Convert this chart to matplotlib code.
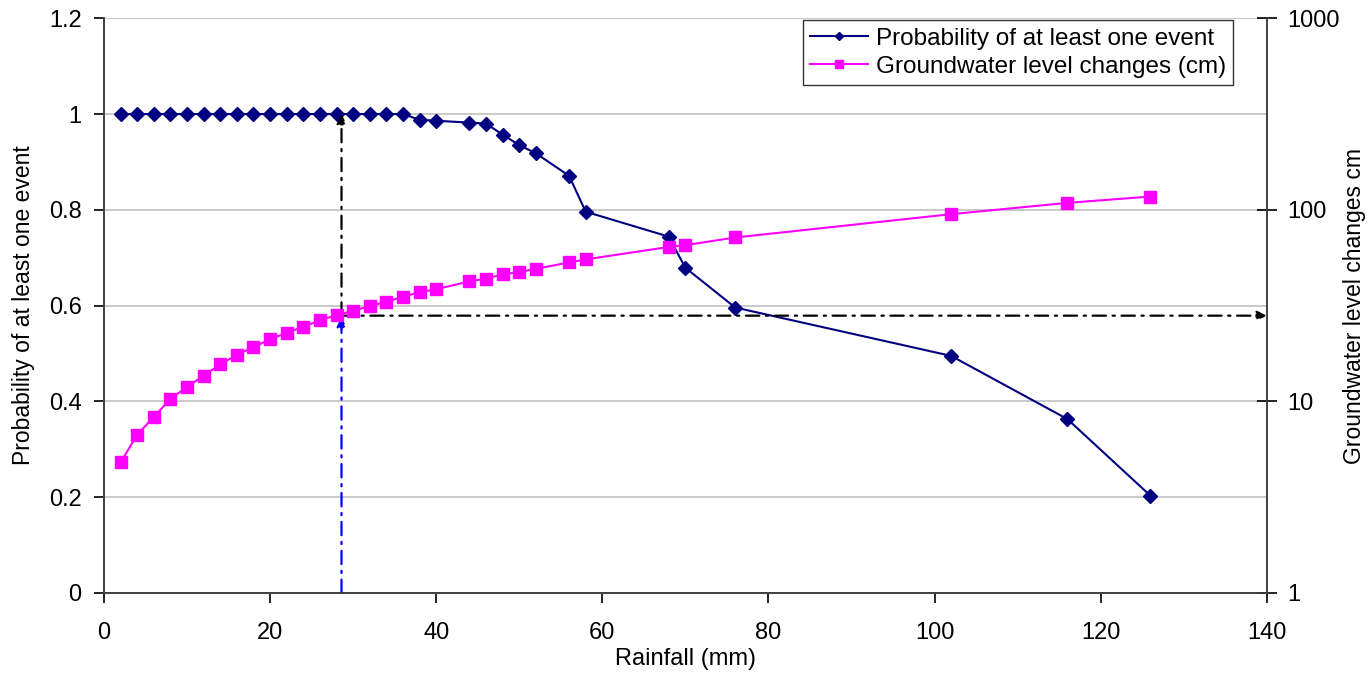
import matplotlib.pyplot as plt
from matplotlib.ticker import FixedLocator, FixedFormatter

plt.rcParams['font.family'] = ['Liberation Sans', 'DejaVu Sans']

# Rainfall (mm)
rain = [2, 4, 6, 8, 10, 12, 14, 16, 18, 20, 22, 24, 26, 28, 30, 32, 34, 36,
        38, 40, 44, 46, 48, 50, 52, 56, 58, 68, 70, 76, 102, 116, 126]

# Probability of at least one event
prob = [1, 1, 1, 1, 1, 1, 1, 1, 1, 1, 1, 1, 1, 1, 1, 1, 1, 1,
        0.988, 0.986, 0.982, 0.98, 0.957, 0.935, 0.918, 0.871, 0.796,
        0.744, 0.679, 0.596, 0.495, 0.363, 0.203]

# Groundwater level changes (cm)
gw = [4.8, 6.7, 8.3, 10.3, 11.9, 13.6, 15.6, 17.5, 19.2, 21.1, 22.8, 24.5,
      26.5, 28.2, 29.7, 31.4, 33.2, 35.1, 37.2, 38.5, 42.3, 43.8, 46.0, 47.4,
      49.2, 53.1, 55.1, 64.0, 65.4, 71.7, 94.9, 108.7, 117.3]

# reading shown with the dash-dot lines
x_read = 28.6
p_read = 0.579

fig = plt.figure(figsize=(13.68, 6.75), dpi=100)
ax = fig.add_axes([0.076, 0.1215, 0.85, 0.8515])
ax2 = ax.twinx()

ax.set_xlim(0, 140)
ax.set_ylim(0, 1.2)
ax.set_xticks(range(0, 141, 20))
ax.set_yticks([0, 0.2, 0.4, 0.6, 0.8, 1.0, 1.2])
ax.set_yticklabels(['0', '0.2', '0.4', '0.6', '0.8', '1', '1.2'])
ax.yaxis.grid(True, color='#c0c0c0', linewidth=1.2)
ax.set_axisbelow(True)
ax.spines['top'].set_visible(False)
ax.tick_params(labelsize=17, direction='out', length=7, width=1.2, colors='black')
ax.tick_params(axis='x', pad=14)
ax.tick_params(axis='y', pad=9)
ax.set_xlabel('Rainfall (mm)', fontsize=17, labelpad=3)
ax.set_ylabel('Probability of at least one event', fontsize=16.5, labelpad=10)

ax2.set_yscale('log')
ax2.set_ylim(1, 1000)
ax2.yaxis.set_major_locator(FixedLocator([1, 10, 100, 1000]))
ax2.yaxis.set_major_formatter(FixedFormatter(['1', '10', '100', '1000']))
ax2.yaxis.set_minor_locator(FixedLocator([]))
ax2.tick_params(labelsize=17, direction='inout', length=14, width=1.2, pad=8)
ax2.spines['top'].set_visible(False)
ax2.set_ylabel('Groundwater level changes cm', fontsize=16.5, labelpad=2)
for s in ['left', 'bottom', 'right']:
    ax.spines[s].set_linewidth(1.2)
    ax2.spines[s].set_linewidth(1.2)
    ax.spines[s].set_color('#404040')
    ax2.spines[s].set_color('#404040')

l1, = ax.plot(rain, prob, color='#000080', marker='D', markersize=7,
              linewidth=1.5, label='Probability of at least one event', zorder=4)
l2, = ax2.plot(rain, gw, color='#ff00ff', marker='s', markersize=8.5,
               linewidth=1.5, label='Groundwater level changes (cm)', zorder=3)

# dash-dot reading lines
ax.annotate('', xy=(x_read, 1.0), xytext=(x_read, p_read),
            arrowprops=dict(arrowstyle='-|>', color='black', lw=1.6,
                            linestyle=(0, (6, 3, 1, 3)), mutation_scale=14,
                            shrinkA=0, shrinkB=0), zorder=5)
ax.annotate('', xy=(x_read, p_read - 0.003), xytext=(x_read, 0),
            arrowprops=dict(arrowstyle='-|>', color='#0000ff', lw=1.6,
                            linestyle=(0, (6, 3, 1, 3)), mutation_scale=14,
                            shrinkA=0, shrinkB=0), zorder=5)
ax.annotate('', xy=(140, p_read), xytext=(x_read, p_read),
            arrowprops=dict(arrowstyle='-|>', color='black', lw=1.6,
                            linestyle=(0, (6, 3, 1, 3)), mutation_scale=14,
                            shrinkA=0, shrinkB=0), zorder=5)

leg = ax2.legend(handles=[l1, l2], loc='upper right', bbox_to_anchor=(0.971, 0.9965),
                 fontsize=17.5, frameon=True, fancybox=False, edgecolor='black',
                 markerscale=0.6, handlelength=2.4, borderpad=0.3,
                 labelspacing=0.25, handletextpad=0.3, borderaxespad=0)
leg.get_frame().set_linewidth(1.0)

fig.savefig('out.png', dpi=100)
